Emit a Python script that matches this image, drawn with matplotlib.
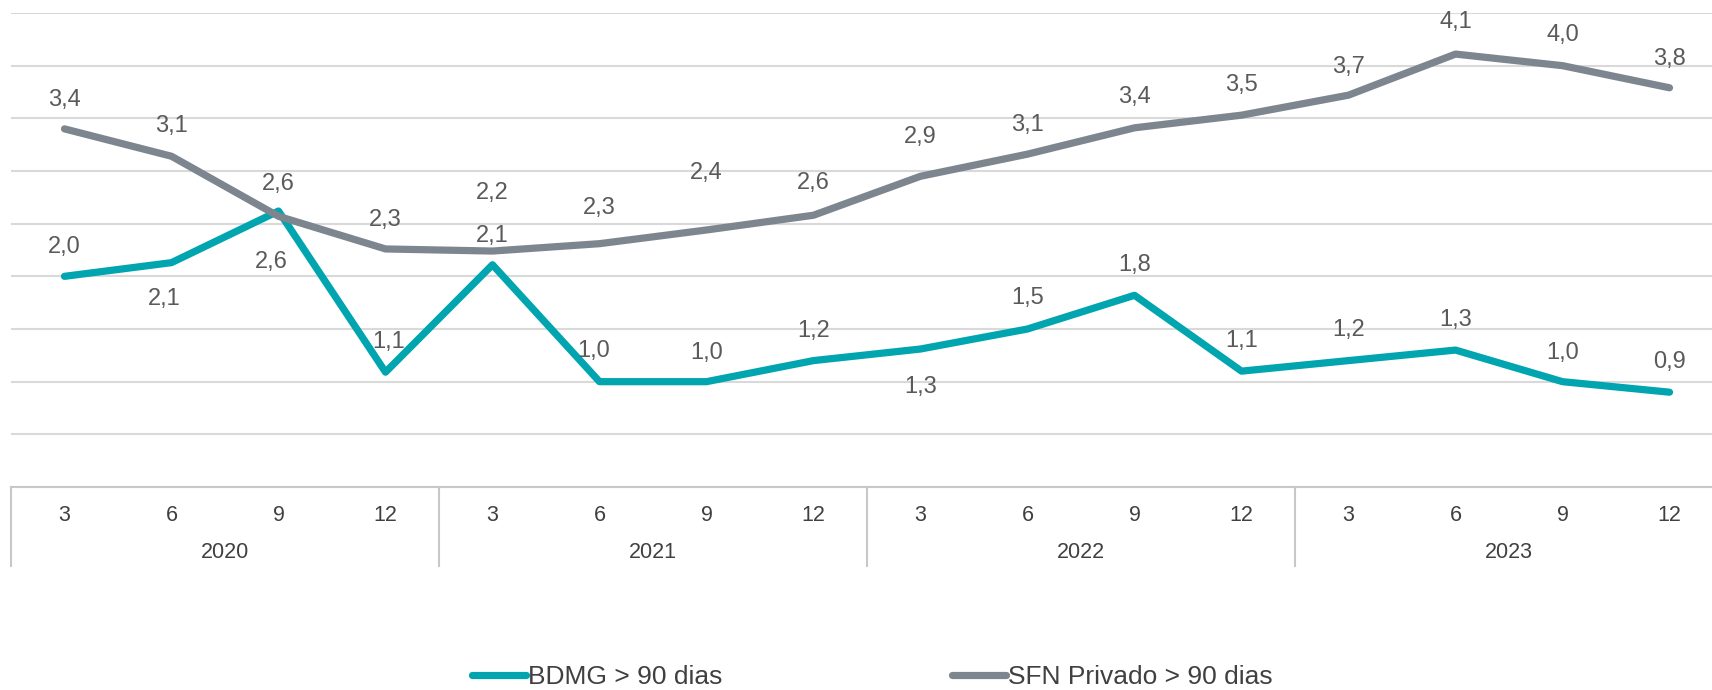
import numpy as np
import matplotlib
matplotlib.use('Agg')
import matplotlib.pyplot as plt
from matplotlib.transforms import blended_transform_factory

plt.rcParams['font.family'] = ['Liberation Sans', 'DejaVu Sans']

# data (quarter end month, year)
months = ['3', '6', '9', '12'] * 4
years = ['2020', '2021', '2022', '2023']
bdmg = [2.00, 2.13, 2.62, 1.09, 2.11, 1.00, 1.00, 1.20, 1.31, 1.50, 1.82, 1.10, 1.20, 1.30, 1.00, 0.90]
sfn = [3.40, 3.14, 2.57, 2.26, 2.24, 2.31, 2.44, 2.58, 2.95, 3.16, 3.41, 3.53, 3.72, 4.11, 4.00, 3.79]
bdmg_lbl = ['2,0', '2,1', '2,6', '1,1', '2,1', '1,0', '1,0', '1,2', '1,3', '1,5', '1,8', '1,1', '1,2', '1,3', '1,0', '0,9']
sfn_lbl = ['3,4', '3,1', '2,6', '2,3', '2,2', '2,3', '2,4', '2,6', '2,9', '3,1', '3,4', '3,5', '3,7', '4,1', '4,0', '3,8']

# label offsets (points, positive = above the point)
bdmg_dy = [21, -26, -37, 22, 21, 22, 21, 21, -27, 22, 22, 22, 22, 22, 21, 22]
bdmg_dx = [0, -5, -5, 2, 0, -4, 0, 0, 0, 0, 0, 0, 0, 0, 0, 0]
sfn_dy = [21, 22, 23, 21, 42, 26, 41, 23, 28, 21, 22, 22, 20, 23, 22, 21]

c_bdmg = '#00a5b0'
c_sfn = '#7d868f'
c_text = '#5a5a5a'
c_tick = '#404040'

W, H = 1712, 690
fig = plt.figure(figsize=(W / 100, H / 100), dpi=100)
# plot area runs a bit past the right edge, as in the reference
ax = fig.add_axes([11 / W, (H - 487) / H, 16 * 107 / W, (487 - 13) / H])

x = np.arange(len(bdmg))
ax.plot(x, bdmg, color=c_bdmg, lw=5.2, solid_capstyle='round', solid_joinstyle='round',
        label='BDMG > 90 dias', zorder=3)
ax.plot(x, sfn, color=c_sfn, lw=5.2, solid_capstyle='round', solid_joinstyle='round',
        label='SFN Privado > 90 dias', zorder=3)

for i in x:
    ax.annotate(bdmg_lbl[i], (i, bdmg[i]), xytext=(bdmg_dx[i], bdmg_dy[i]),
                textcoords='offset points', ha='center', va='center',
                fontsize=17, color=c_text)
    ax.annotate(sfn_lbl[i], (i, sfn[i]), xytext=(0, sfn_dy[i]),
                textcoords='offset points', ha='center', va='center',
                fontsize=17, color=c_text)

ax.set_xlim(-0.5, 15.5)
ax.set_ylim(0, 4.5)
ax.set_yticks(np.arange(0.5, 4.51, 0.5))
ax.set_yticklabels([])
ax.tick_params(axis='y', length=0)
ax.grid(axis='y', color='#d9d9d9', lw=1.5)
ax.set_axisbelow(True)
for s in ['top', 'right', 'left']:
    ax.spines[s].set_visible(False)
ax.spines['bottom'].set_color('#c8c8c8')
ax.spines['bottom'].set_linewidth(1.5)

# two level category axis
ax.set_xticks([])
tr = blended_transform_factory(ax.transData, ax.transAxes)
for i in x:
    ax.annotate(months[i], (i, 0), xycoords=tr, xytext=(0, -20.5), textcoords='offset points',
                ha='center', va='center', fontsize=15.5, color=c_tick)
for k, yr in enumerate(years):
    ax.annotate(yr, (4 * k + 1.5, 0), xycoords=tr, xytext=(0, -47), textcoords='offset points',
                ha='center', va='center', fontsize=15.5, color=c_tick)
sep_h = 79 / (487 - 13)
for b in [-0.5, 3.5, 7.5, 11.5, 15.5]:
    ax.plot([b, b], [0, -sep_h], transform=tr, color='#c8c8c8', lw=1.5, clip_on=False)

fig.legend(loc='center left', bbox_to_anchor=(472 / W, 13 / H), ncol=2, frameon=False,
           fontsize=19, handlelength=2.05, handletextpad=0.08, columnspacing=8.7,
           borderpad=0, borderaxespad=0, labelcolor=c_tick)

fig.savefig('out.png', dpi=100)
